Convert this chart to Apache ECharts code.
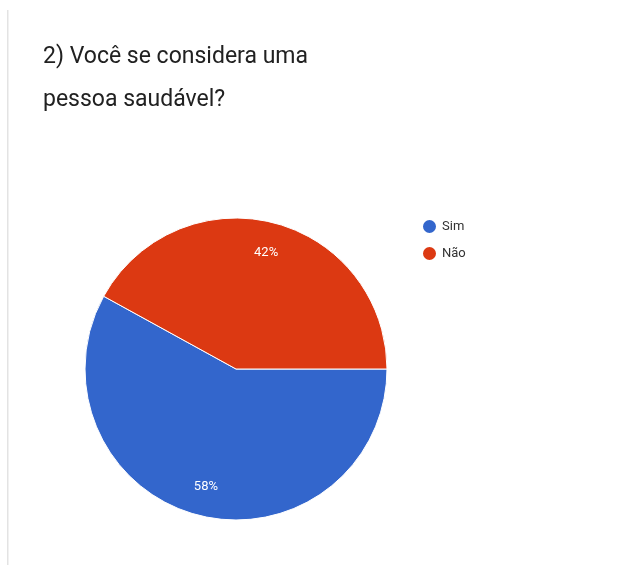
<!DOCTYPE html>
<html>
<head>
<meta charset="utf-8">
<script src="https://cdn.jsdelivr.net/npm/echarts@6/dist/echarts.min.js"></script>
<style>
html,body{margin:0;padding:0;background:#fff;}
#c{width:621px;height:565px;}
</style>
</head>
<body>
<div id="c"></div>
<script>
const titleText = "2) Você se considera uma\npessoa saudável?";
const categories = ["Sim", "Não"];
const values = [58, 42];
const colors = ["#3366cc", "#dc3912"];

const data = categories.map((c, i) => ({ name: c, value: values[i], itemStyle: { color: colors[i] } }));
const labelData = categories.map((c, i) => ({ name: c, value: values[i] }));

const chart = echarts.init(document.getElementById('c'), null, { renderer: 'canvas' });
chart.setOption({
  backgroundColor: '#ffffff',
  animation: false,
  title: {
    text: titleText,
    left: 38,
    top: 31,
    textStyle: { fontFamily: 'Roboto', fontSize: 23, fontWeight: 'normal', color: '#212121', lineHeight: 43 }
  },
  legend: {
    orient: 'vertical',
    left: 416,
    top: 213,
    icon: 'circle',
    itemWidth: 15,
    itemHeight: 15,
    itemGap: 10,
    data: categories,
    textStyle: { fontFamily: 'Roboto', fontSize: 13, color: '#333333' }
  },
  graphic: [{
    type: 'rect',
    shape: { x: 7, y: 10, width: 1.5, height: 560 },
    style: { fill: '#e3e3e3' },
    silent: true
  }],
  series: [{
    type: 'pie',
    center: [236, 369],
    radius: [0, 151],
    startAngle: 0,
    clockwise: true,
    label: { show: false },
    labelLine: { show: false },
    itemStyle: { borderColor: '#ffffff', borderWidth: 1 },
    emphasis: { disabled: true },
    data: data
  }, {
    type: 'pie',
    center: [236, 370],
    radius: [85, 151],
    startAngle: 0,
    clockwise: true,
    silent: true,
    itemStyle: { color: 'rgba(0,0,0,0)', borderWidth: 0 },
    emphasis: { disabled: true },
    label: {
      show: true,
      position: 'inside',
      formatter: p => p.percent.toFixed(0) + '%',
      color: '#ffffff',
      fontFamily: 'Roboto',
      fontSize: 13
    },
    labelLine: { show: false },
    data: labelData
  }]
});
</script>
</body>
</html>
